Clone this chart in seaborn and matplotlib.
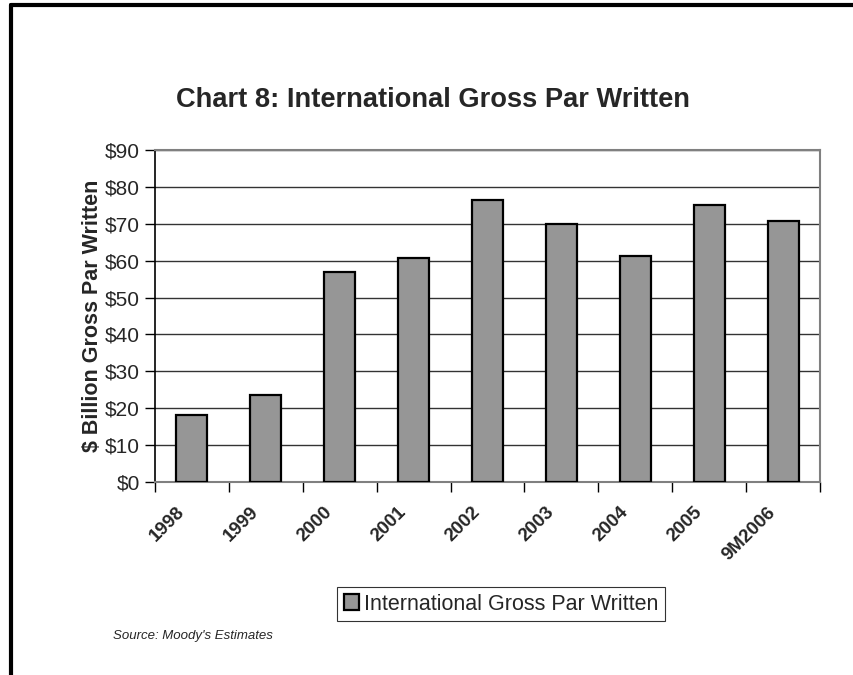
import matplotlib
matplotlib.use("Agg")
import matplotlib.pyplot as plt
from matplotlib.lines import Line2D
from matplotlib.patches import Patch
import seaborn as sns
import pandas as pd

years = ["1998", "1999", "2000", "2001", "2002", "2003", "2004", "2005", "9M2006"]
par_written = [18.2, 23.5, 57.0, 60.7, 76.4, 69.9, 61.2, 75.0, 70.8]
y_ticks = [0, 10, 20, 30, 40, 50, 60, 70, 80, 90]
y_tick_labels = ["$0", "$10", "$20", "$30", "$40", "$50", "$60", "$70", "$80", "$90"]
series_name = "International Gross Par Written"

sns.set_style("white")
plt.rcParams["font.family"] = ["Liberation Sans", "DejaVu Sans"]

df = pd.DataFrame({"year": years, "value": par_written})

fig = plt.figure(figsize=(8.54, 6.75), dpi=100)
ax = fig.add_axes([155 / 854, 1 - 482 / 675, 665 / 854, 332 / 675])

sns.barplot(data=df, x="year", y="value", ax=ax, color="#969696",
            saturation=1, width=0.42, edgecolor="black", linewidth=1.6,
            zorder=3)

ax.set_ylim(0, 90)
ax.set_xlim(-0.5, len(years) - 0.5)
ax.set_yticks(y_ticks)
ax.set_yticklabels(y_tick_labels, fontsize=15)
ax.yaxis.grid(True, color="#333333", linewidth=1.0, zorder=0)
ax.set_axisbelow(True)

# category ticks sit between the bars; labels hang slightly left of each bar
ax.set_xticks([i + 0.5 for i in range(-1, len(years))], minor=False)
ax.set_xticklabels([])
ax.set_xticks([i - 0.135 for i in range(len(years))], minor=True)
ax.set_xticklabels(years, minor=True, rotation=45, ha="right", va="center",
                   rotation_mode="anchor", fontsize=13.5, fontweight="bold")
ax.tick_params(axis="x", which="major", direction="out", length=7,
               width=1, color="black", bottom=True)
ax.tick_params(axis="x", which="minor", length=0, pad=20)
ax.tick_params(axis="y", direction="out", length=7, width=1,
               color="black", left=True, pad=4)

for side in ["top", "right", "bottom"]:
    ax.spines[side].set_color("#808080")
    ax.spines[side].set_linewidth(1.5)
ax.spines["left"].set_color("black")
ax.spines["left"].set_linewidth(1.2)

ax.set_xlabel("")
ax.set_ylabel("$ Billion Gross Par Written", fontsize=15.5,
              fontweight="bold")
ax.yaxis.set_label_coords((103 - 155) / 665, 0.5)

fig.text(433 / 854, 1 - 100 / 675, "Chart 8: International Gross Par Written",
         ha="center", va="center", fontsize=19.6, fontweight="bold")

handle = Patch(facecolor="#969696", edgecolor="black", linewidth=1.6)
leg = fig.legend([handle], [series_name], loc="center",
                 bbox_to_anchor=(501 / 854, 1 - 604 / 675), fontsize=15.5,
                 frameon=True, fancybox=False, edgecolor="black",
                 handlelength=0.7, handleheight=0.7, handletextpad=0.25,
                 borderpad=0.3, borderaxespad=0)
leg.get_frame().set_linewidth(0.8)

fig.text(113 / 854, 1 - 636 / 675, "Source: Moody's Estimates",
         ha="left", va="center", fontsize=9.5, style="italic")

# page frame
fig.add_artist(Line2D([11 / 854, 11 / 854], [0, 1 - 5 / 675],
                      color="black", linewidth=3, transform=fig.transFigure))
fig.add_artist(Line2D([11 / 854, 1], [1 - 5 / 675, 1 - 5 / 675],
                      color="black", linewidth=3, transform=fig.transFigure))

fig.savefig("out.png", dpi=100)
